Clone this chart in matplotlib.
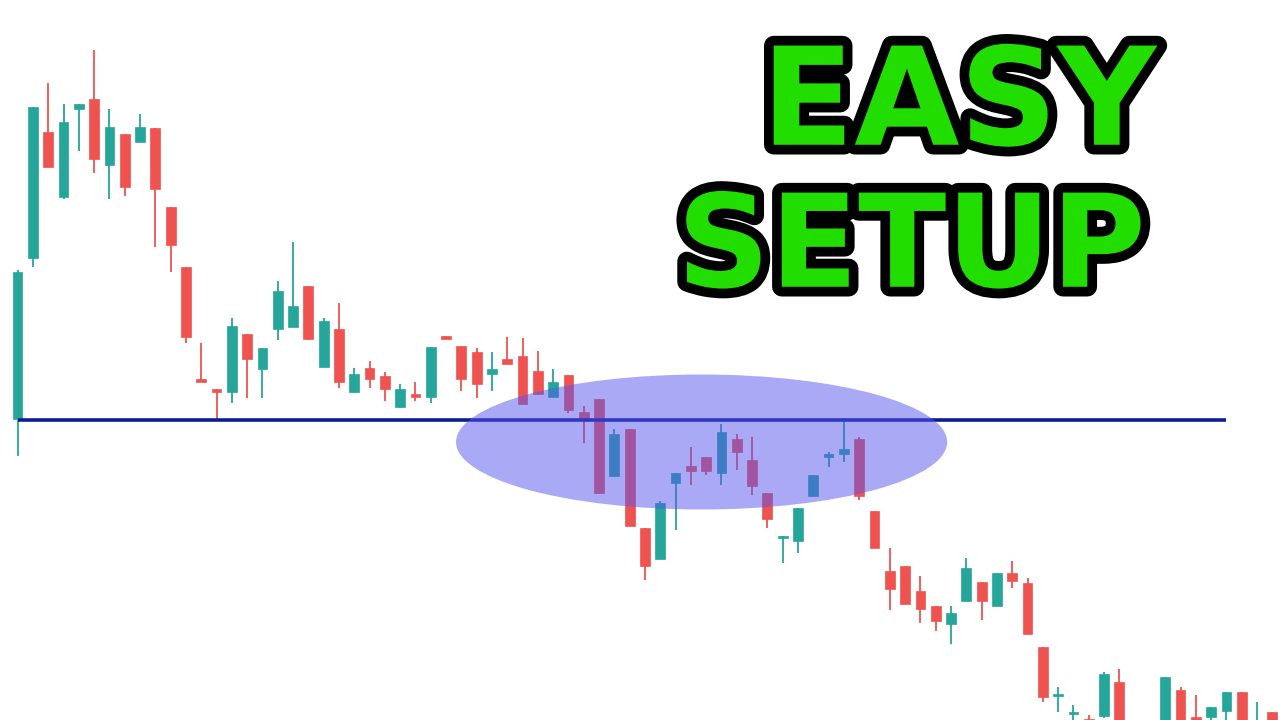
import numpy as np
import matplotlib
matplotlib.use("Agg")
import matplotlib.pyplot as plt
import matplotlib.patheffects as pe
from matplotlib.patches import Ellipse, Rectangle

# candle values (arbitrary price units)
opens = [301, 462, 588, 523, 611, 621, 555, 586, 578, 592,
         513, 453, 341, 331, 328, 386, 351, 391, 393, 434,
         353, 391, 328, 352, 344, 313, 326, 323, 384, 374,
         368, 346, 361, 364, 349, 323, 345, 308, 321, 244,
         291, 192, 161, 237, 254, 263, 247, 281, 260, 227,
         182, 179, 224, 263, 266, 281, 209, 149, 154, 129,
         114, 96, 119, 138, 114, 147, 137, 73, 24, 6,
         1, 4, 38, -12, -32, -5, 30, 3, 3, 9,
         28, -10, 8]
highs = [450, 613, 637, 616, 616, 670, 611, 586, 606, 592,
         513, 453, 377, 331, 402, 386, 372, 439, 478, 434,
         402, 417, 352, 359, 348, 336, 338, 373, 384, 374,
         372, 368, 383, 382, 369, 351, 345, 314, 321, 291,
         291, 192, 219, 247, 273, 263, 296, 286, 283, 227,
         184, 212, 245, 268, 302, 283, 209, 172, 154, 144,
         114, 114, 162, 138, 147, 159, 142, 73, 33, 15,
         5, 48, 51, -5, -8, 43, 33, 25, 13, 28,
         28, 18, 8]
lows = [264, 453, 553, 521, 569, 547, 521, 524, 578, 473,
        448, 377, 338, 299, 317, 322, 322, 380, 393, 380,
        353, 332, 327, 332, 319, 312, 319, 317, 381, 329,
        322, 329, 356, 316, 325, 323, 307, 277, 227, 243,
        194, 140, 161, 190, 235, 245, 235, 250, 225, 192,
        157, 167, 224, 253, 258, 220, 172, 110, 116, 97,
        89, 76, 119, 100, 114, 132, 86, 18, 8, -10,
        -12, 2, -15, -35, -36, -8, -10, -12, -5, -5,
        -5, -12, -8]
closes = [448, 613, 553, 598, 616, 561, 593, 533, 593, 531,
          475, 383, 338, 328, 394, 361, 372, 429, 414, 381,
          399, 338, 346, 341, 331, 331, 323, 373, 381, 341,
          336, 351, 356, 316, 326, 338, 310, 301, 227, 286,
          194, 154, 217, 247, 249, 249, 288, 268, 234, 201,
          184, 212, 245, 266, 271, 224, 172, 131, 116, 111,
          99, 107, 152, 119, 147, 139, 86, 23, 26, 8,
          -8, 46, -10, -30, -15, 43, -5, -10, 13, 28,
          -3, -2, -5]

support_level = 300
support_start, support_end = 0, 79
zone_center = (44.7, 278)
zone_size = (32.1, 135)
title_lines = ["EASY", "SETUP"]

up_color = "#26a69a"
down_color = "#ef5350"

fig = plt.figure(figsize=(12.8, 7.2), dpi=100)
ax = fig.add_axes([0, 0, 1, 1])
ax.set_xlim(-1.15, 82.5)
ax.set_ylim(0, 720)
ax.axis("off")

body_w = 0.64
for i, (o, h, l, c) in enumerate(zip(opens, highs, lows, closes)):
    col = up_color if c >= o else down_color
    ax.vlines(i, l, h, color=col, linewidth=1.3, zorder=2)
    bottom = min(o, c)
    height = max(abs(c - o), 2.5)
    ax.add_patch(Rectangle((i - body_w / 2, bottom), body_w, height,
                           facecolor=col, edgecolor=col, linewidth=0.5, zorder=3))

# support line
ax.hlines(support_level, support_start, support_end, color="#0b1c94", linewidth=2.6, zorder=4)

# highlighted zone
ax.add_patch(Ellipse(zone_center, zone_size[0], zone_size[1],
                     facecolor="#5555ee", alpha=0.5, edgecolor="none", zorder=5))

# title text
outline = [pe.Stroke(linewidth=14, foreground="black", joinstyle="round"), pe.Normal()]
fig.text(0.749, 0.851, title_lines[0], fontsize=98, fontweight="heavy",
         family=["DejaVu Sans"], color="#22dd00", ha="center", va="center",
         path_effects=outline, zorder=10)
fig.text(0.712, 0.651, title_lines[1], fontsize=93, fontweight="heavy",
         family=["DejaVu Sans"], color="#22dd00", ha="center", va="center",
         path_effects=outline, zorder=10)

fig.savefig("out.png", dpi=100)
